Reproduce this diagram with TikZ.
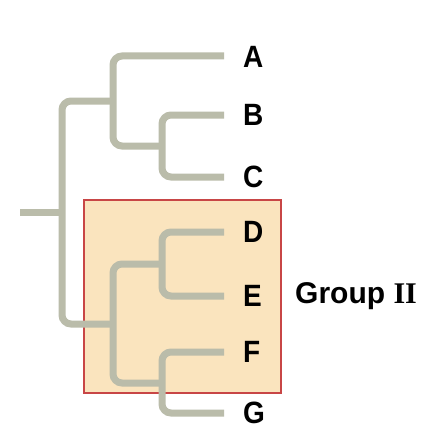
\documentclass[tikz,border=0pt]{standalone}
\usepackage{fontspec}
\setmainfont{Liberation Sans}
\newfontfamily\serifII{Liberation Serif}
\definecolor{branch}{RGB}{186,188,170}
\definecolor{boxfill}{RGB}{250,228,190}
\definecolor{boxline}{RGB}{200,70,70}
\begin{document}
\begin{tikzpicture}[x=1pt,y=-1pt,
  br/.style={draw=branch,line width=7pt,rounded corners=9pt,line cap=butt},
  leaf/.style={font=\fontsize{28}{30}\selectfont\bfseries,anchor=west,inner sep=0pt,yscale=1.1}]
\useasboundingbox (0,0) rectangle (424,444);
\fill[white] (0,0) rectangle (424,444);
\node[draw=boxline,fill=boxfill,line width=2pt,minimum width=197pt,minimum height=193pt,anchor=north west,inner sep=0pt] (grp) at (83,199) {};
% leaves
\node[leaf] (A) at (243,57) {A};
\node[leaf] (B) at (243,115) {B};
\node[leaf] (C) at (243,177) {C};
\node[leaf] (D) at (243,232) {D};
\node[leaf] (E) at (243,296) {E};
\node[leaf] (F) at (243,352) {F};
\node[leaf] (G) at (243,413) {G};
\node[anchor=west,inner sep=0pt,font=\fontsize{30}{32}\selectfont\bfseries] (lab) at (295,296) {Group {\serifII II}};
% internal coordinates
\coordinate (tA) at (224,56);
\coordinate (tB) at (224,115);
\coordinate (tC) at (224,177);
\coordinate (tD) at (224,232);
\coordinate (tE) at (224,296);
\coordinate (tF) at (224,352);
\coordinate (tG) at (224,413);
\coordinate (nBC) at (162,146);
\coordinate (nABC) at (113,101);
\coordinate (nDE) at (162,264);
\coordinate (nFG) at (162,383);
\coordinate (nDG) at (113,324);
\coordinate (root) at (62,212);
\coordinate (stub) at (20,212);
% branches
\draw[br] (tB) -- (tB -| nBC) -- (tC -| nBC) -- (tC);
\draw[br] (tA) -- (tA -| nABC) -- (nBC -| nABC) -- (nBC);
\draw[br] (tD) -- (tD -| nDE) -- (tE -| nDE) -- (tE);
\draw[br] (tF) -- (tF -| nFG) -- (tG -| nFG) -- (tG);
\draw[br] (nDE) -- (nDE -| nDG) -- (nFG -| nDG) -- (nFG);
\draw[br] (nABC) -- (nABC -| root) -- (nDG -| root) -- (nDG);
\draw[br] (stub) -- (root);
\end{tikzpicture}
\end{document}
